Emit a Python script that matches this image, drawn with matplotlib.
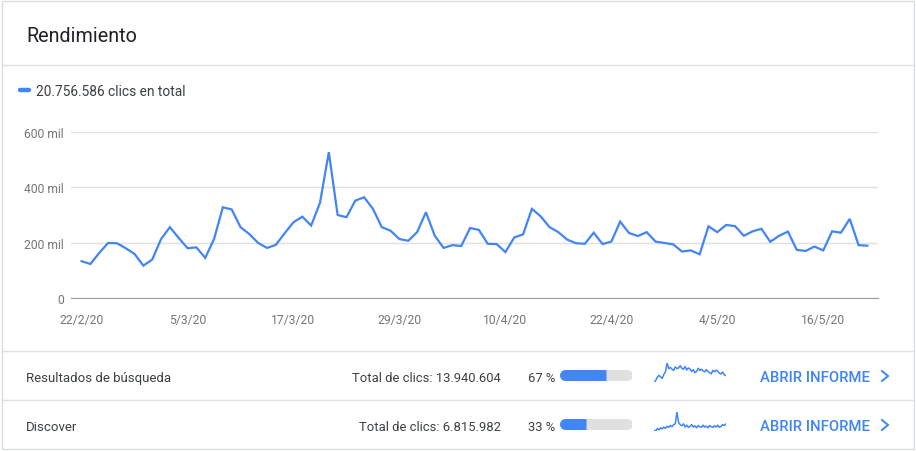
import matplotlib
matplotlib.use("Agg")
import matplotlib.pyplot as plt
from matplotlib.patches import Rectangle

# ---------------------------------------------------------------------
# Datos (clics diarios en miles, del 22/2/20 al 21/5/20)
# ---------------------------------------------------------------------
clics_total = [133, 123, 163, 199, 198, 180, 159, 117, 139, 213,
               256, 217, 180, 183, 145, 213, 328, 320, 256, 231,
               199, 181, 192, 234, 274, 294, 262, 344, 527, 300,
               292, 352, 364, 322, 256, 243, 213, 207, 238, 310,
               225, 181, 191, 188, 253, 246, 196, 195, 166, 219,
               230, 322, 295, 256, 238, 211, 198, 196, 236, 195,
               204, 276, 235, 224, 238, 204, 199, 194, 168, 172,
               158, 259, 238, 264, 260, 225, 241, 250, 203, 225,
               240, 174, 170, 186, 172, 241, 236, 286, 191, 189]

x_ticks = [0, 12, 24, 36, 48, 60, 72, 84]
x_etiquetas = ["22/2/20", "5/3/20", "17/3/20", "29/3/20",
               "10/4/20", "22/4/20", "4/5/20", "16/5/20"]
y_ticks = [0, 200, 400, 600]
y_etiquetas = ["0", "200 mil", "400 mil", "600 mil"]

total_clics = "20.756.586"

fuentes = ["Resultados de búsqueda", "Discover"]
totales_fuente = ["13.940.604", "6.815.982"]
porcentajes = [67, 33]

# mini gráficos (cada dos días, miles)
spark_busqueda = [92, 100, 118, 130, 122, 112, 135, 150, 200, 168,
                  175, 165, 158, 178, 168, 172, 185, 170, 165, 180,
                  160, 172, 165, 152, 162, 145, 152, 170, 158, 165,
                  155, 150, 162, 152, 145, 138, 158, 150, 160, 152,
                  142, 138, 148, 132, 128]
spark_discover = [60, 55, 70, 62, 75, 68, 80, 72, 85, 78,
                  90, 82, 95, 100, 175, 110, 95, 88, 100, 80,
                  92, 78, 85, 95, 80, 88, 75, 90, 82, 78,
                  92, 80, 86, 75, 90, 82, 78, 88, 80, 92,
                  78, 85, 95, 90, 100]

# ---------------------------------------------------------------------
# Estilo
# ---------------------------------------------------------------------
AZUL = "#4285f4"
GRIS_TXT = "#3c4043"
GRIS_EJE = "#757575"
GRIS_LINEA = "#e0e0e0"
plt.rcParams["font.family"] = ["Roboto", "DejaVu Sans"]

W, H = 916, 452


def rect(x0, y0, x1, y1):
    """Caja en píxeles (origen arriba a la izquierda) -> coords de figura."""
    return [x0 / W, 1 - y1 / H, (x1 - x0) / W, (y1 - y0) / H]


fig = plt.figure(figsize=(W / 100, H / 100), dpi=100)
fig.patch.set_facecolor("white")

# capa de fondo en píxeles para la tarjeta y los textos
bg = fig.add_axes([0, 0, 1, 1])
bg.set_xlim(0, W)
bg.set_ylim(H, 0)
bg.axis("off")

bg.add_patch(Rectangle((1.5, 1.5), W - 4, H - 3.5, facecolor="white",
                       edgecolor="#dadce0", lw=1))
for yl in (66, 352, 401):
    bg.plot([2, W - 3], [yl, yl], color=GRIS_LINEA, lw=1)

bg.text(26, 42, "Rendimiento", fontsize=14.2, color="#202124", va="baseline")

bg.plot([19.5, 28.5], [91, 91], color=AZUL, lw=3.2, solid_capstyle="round")
bg.text(35.5, 95.5, f"{total_clics} clics en total", fontsize=9.9,
        color=GRIS_TXT, va="baseline")

# ---------------------------------------------------------------------
# Gráfico principal
# ---------------------------------------------------------------------
ax = fig.add_axes(rect(71, 133, 878, 299))
ax.patch.set_alpha(0)
dias = list(range(len(clics_total)))
ax.plot(dias, clics_total, color=AZUL, lw=1.6, solid_joinstyle="miter")
ax.set_xlim(-1.2, 90.2)
ax.set_ylim(0, 600)
ax.set_yticks(y_ticks)
ax.set_yticklabels(y_etiquetas)
ax.set_xticks(x_ticks)
ax.set_xticklabels(x_etiquetas)
ax.grid(axis="y", color=GRIS_LINEA, lw=1)
ax.set_axisbelow(True)
for lado in ("top", "right", "left"):
    ax.spines[lado].set_visible(False)
ax.spines["bottom"].set_color("#9e9e9e")
ax.tick_params(axis="both", length=0, labelsize=8.7, labelcolor=GRIS_EJE)
ax.tick_params(axis="y", pad=5)
ax.tick_params(axis="x", pad=11)

# ---------------------------------------------------------------------
# Filas por fuente
# ---------------------------------------------------------------------
sparks = [spark_busqueda, spark_discover]
filas_y = [382, 431]
for i, nombre in enumerate(fuentes):
    yb = filas_y[i]
    bg.text(26, yb, nombre, fontsize=9.5, color=GRIS_TXT, va="baseline")
    bg.text(501, yb, f"Total de clics: {totales_fuente[i]}", fontsize=9.4,
            color=GRIS_TXT, va="baseline", ha="right")
    bg.text(555, yb, f"{porcentajes[i]} %", fontsize=9.4,
            color=GRIS_TXT, va="baseline", ha="right")

    # barra de porcentaje
    axb = fig.add_axes(rect(560, yb - 16, 632, yb + 4))
    axb.set_xlim(-9.0, 109.0)
    axb.set_ylim(-1, 1)
    axb.axis("off")
    axb.plot([0, 100], [0, 0], color=GRIS_LINEA, lw=7.9,
             solid_capstyle="round")
    axb.plot([0, porcentajes[i] / 2], [0, 0], color=AZUL, lw=7.9,
             solid_capstyle="round")
    axb.plot([0, porcentajes[i]], [0, 0], color=AZUL, lw=7.9,
             solid_capstyle="butt")

    # mini gráfico
    y_top = 364 if i == 0 else 413
    axs = fig.add_axes(rect(654, y_top, 726, y_top + 19))
    axs.plot(range(len(sparks[i])), sparks[i], color=AZUL, lw=1.1)
    axs.margins(0, 0)
    axs.axis("off")

    bg.text(760, yb, "ABRIR INFORME", fontsize=10.7, color=AZUL,
            fontweight="medium", va="baseline")
    bg.plot([882, 888, 882], [yb - 10, yb - 5, yb], color=AZUL, lw=1.4,
            solid_joinstyle="miter")

fig.savefig("out.png", dpi=100)
